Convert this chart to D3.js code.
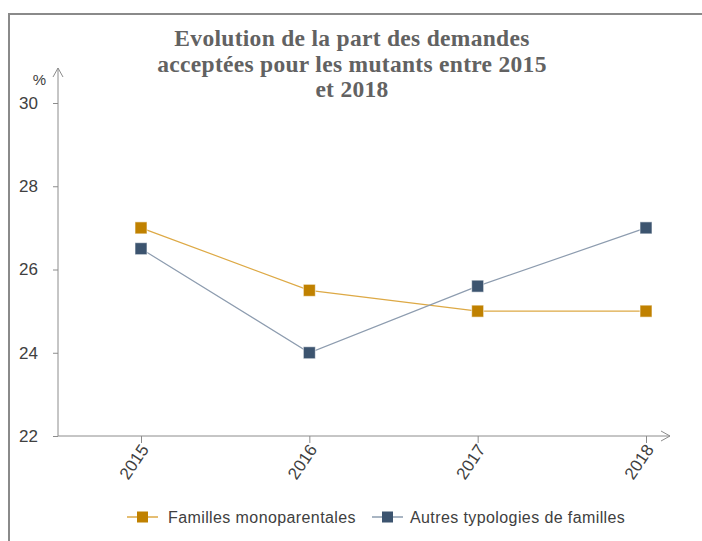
<!DOCTYPE html>
<html>
<head>
<meta charset="utf-8">
<script src="https://cdn.jsdelivr.net/npm/d3@7"></script>
<style>
  html, body { margin: 0; padding: 0; background: #fff; }
  svg { display: block; }
</style>
</head>
<body>
<svg id="chart" width="702" height="541"></svg>
<script>
// Years on the horizontal axis
const years = ["2015", "2016", "2017", "2018"];
// Share of accepted requests (%)
const monoparentales = [27, 25.5, 25, 25];
const autresTypologies = [26.5, 24, 25.6, 27];
// Vertical axis ticks
const yTicks = [22, 24, 26, 28, 30];
const seriesNames = ["Familles monoparentales", "Autres typologies de familles"];
const titleLines = ["Evolution de la part des demandes", "acceptées pour les mutants entre 2015", "et 2018"];

const series = [
  { name: seriesNames[0], values: monoparentales, line: "#DDA945", fill: "#C08100" },
  { name: seriesNames[1], values: autresTypologies, line: "#8D9CAF", fill: "#3C546F" }
];

const svg = d3.select("#chart");
const axisColor = "#8c8c8c";
const textColor = "#404040";
const sans = "'Liberation Sans', Arial, sans-serif";

// Outer frame
svg.append("path")
  .attr("d", "M9,541 L9,14 L702,14")
  .attr("fill", "none").attr("stroke", "#8a8a8a").attr("stroke-width", 2);

// Title
const title = svg.append("text")
  .attr("text-anchor", "middle")
  .attr("font-family", "'Liberation Serif', 'DejaVu Serif', serif")
  .attr("font-weight", "bold")
  .attr("font-size", 23.5)
  .attr("letter-spacing", 0.3)
  .attr("fill", "#626262");
titleLines.forEach((t, i) => {
  title.append("tspan").attr("x", 352).attr("y", 46 + i * 25.5).text(t);
});

// Scales
const x = d3.scalePoint().domain(years).range([141, 646]);
const y = d3.scaleLinear().domain([22, 30]).range([436, 103]);

const axisX0 = 58, axisXEnd = 670, axisYTop = 68;

// Y axis with ticks on the left
const yAxis = svg.append("g").attr("transform", `translate(${axisX0},0)`)
  .call(d3.axisLeft(y).tickValues(yTicks).tickSize(5).tickSizeOuter(0).tickPadding(15));
yAxis.select(".domain").remove();
yAxis.selectAll(".tick line").attr("stroke", axisColor);
yAxis.selectAll(".tick text")
  .attr("font-family", sans)
  .attr("font-size", 17).attr("fill", textColor);
svg.append("line")
  .attr("x1", axisX0).attr("x2", axisX0)
  .attr("y1", y(22)).attr("y2", axisYTop)
  .attr("stroke", axisColor).attr("stroke-width", 1);
svg.append("path")
  .attr("d", `M${axisX0 - 5},${axisYTop + 9} L${axisX0},${axisYTop} L${axisX0 + 5},${axisYTop + 9}`)
  .attr("fill", "none").attr("stroke", axisColor);
svg.append("text")
  .attr("x", 46).attr("y", 85).attr("text-anchor", "end")
  .attr("font-family", sans)
  .attr("font-size", 15).attr("fill", textColor).text("%");

// X axis with rotated year labels
const xAxis = svg.append("g").attr("transform", `translate(0,${y(22)})`)
  .call(d3.axisBottom(x).tickSize(7).tickSizeOuter(0));
xAxis.select(".domain").remove();
xAxis.selectAll(".tick line").attr("stroke", axisColor);
xAxis.selectAll(".tick text")
  .attr("font-family", sans)
  .attr("font-size", 17).attr("fill", textColor)
  .attr("text-anchor", "end")
  .attr("transform", "translate(3,10) rotate(-56)")
  .attr("dy", "0.35em").attr("y", 0).attr("x", 0);
svg.append("line")
  .attr("x1", axisX0).attr("x2", axisXEnd)
  .attr("y1", y(22)).attr("y2", y(22))
  .attr("stroke", axisColor).attr("stroke-width", 1);
svg.append("path")
  .attr("d", `M${axisXEnd - 9},${y(22) - 5} L${axisXEnd},${y(22)} L${axisXEnd - 9},${y(22) + 5}`)
  .attr("fill", "none").attr("stroke", axisColor);

// Lines and markers
const line = d3.line().x((d, i) => x(years[i])).y(d => y(d));
series.forEach(s => {
  svg.append("path")
    .datum(s.values)
    .attr("d", line)
    .attr("fill", "none").attr("stroke", s.line).attr("stroke-width", 1.2);
  svg.selectAll(null).data(s.values).enter().append("rect")
    .attr("x", (d, i) => x(years[i]) - 6)
    .attr("y", d => y(d) - 6)
    .attr("width", 12).attr("height", 12)
    .attr("fill", s.fill)
    .attr("stroke", "#ffffff").attr("stroke-opacity", 0.6).attr("stroke-width", 1);
});

// Legend
const legendPos = [{ x: 127, tx: 168 }, { x: 372, tx: 410 }];
series.forEach((s, i) => {
  const g = svg.append("g");
  const lx = legendPos[i].x;
  g.append("line").attr("x1", lx).attr("x2", lx + 31)
    .attr("y1", 517).attr("y2", 517).attr("stroke", s.line).attr("stroke-width", 1.5);
  g.append("rect").attr("x", lx + 10).attr("y", 511.5).attr("width", 11).attr("height", 11)
    .attr("fill", s.fill);
  g.append("text").attr("x", legendPos[i].tx).attr("y", 523)
    .attr("font-family", sans)
    .attr("font-size", 16).attr("letter-spacing", 0.4)
    .attr("fill", textColor).text(s.name);
});
</script>
</body>
</html>
